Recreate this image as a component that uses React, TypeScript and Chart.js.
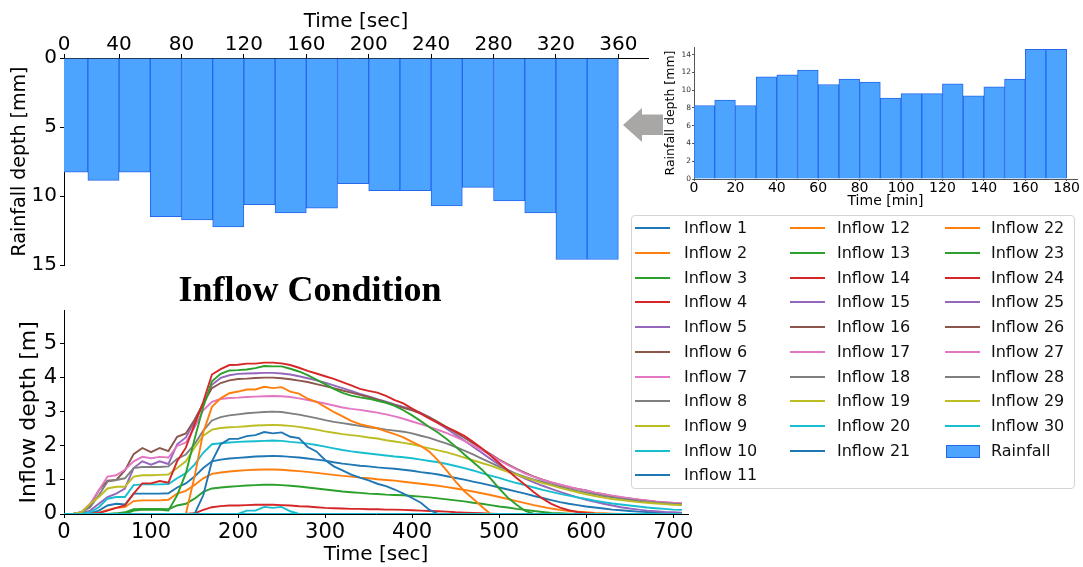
import React, { useEffect, useRef } from 'react';
import { Chart, registerables } from 'chart.js';
Chart.register(...registerables);

// ---------------- data ----------------
const rainBinStartSec = [0, 20, 40, 60, 80, 100, 120, 140, 160, 180, 200, 220, 240, 260, 280, 300, 320, 340];
const rainBinStartMin = [0, 10, 20, 30, 40, 50, 60, 70, 80, 90, 100, 110, 120, 130, 140, 150, 160, 170];
const rainfallMm = [8.27, 8.87, 8.27, 11.49, 11.73, 12.24, 10.63, 11.23, 10.89, 9.11, 9.61, 9.61, 10.72, 9.37, 10.36, 11.23, 14.6, 14.6];
const topTickLabelsSec = [0, 40, 80, 120, 160, 200, 240, 280, 320, 360];

const timeSec = [
  0, 10, 20, 30, 40, 50, 60, 70, 80, 90,
  100, 110, 120, 130, 140, 150, 160, 170, 180, 190,
  200, 210, 220, 230, 240, 250, 260, 270, 280, 290,
  300, 310, 320, 330, 340, 350, 360, 370, 380, 390,
  400, 410, 420, 430, 440, 450, 460, 470, 480, 490,
  500, 510, 520, 530, 540, 550, 560, 570, 580, 590,
  600, 610, 620, 630, 640, 650, 660, 670, 680, 690,
  700, 710,
];

const zeroDepth = [
  0, 0, 0, 0, 0, 0, 0, 0, 0, 0,
  0, 0, 0, 0, 0, 0, 0, 0, 0, 0,
  0, 0, 0, 0, 0, 0, 0, 0, 0, 0,
  0, 0, 0, 0, 0, 0, 0, 0, 0, 0,
  0, 0, 0, 0, 0, 0, 0, 0, 0, 0,
  0, 0, 0, 0, 0, 0, 0, 0, 0, 0,
  0, 0, 0, 0, 0, 0, 0, 0, 0, 0,
  0, 0,
];

const inflow1 = [
  0, 0, 0, 0.02, 0.1, 0.25, 0.3, 0.28, 0.6, 0.6,
  0.6, 0.6, 0.61, 0.78, 0.9, 1.1, 1.35, 1.55, 1.6, 1.63,
  1.65, 1.67, 1.69, 1.7, 1.71, 1.7, 1.68, 1.66, 1.63, 1.6,
  1.57, 1.52, 1.48, 1.45, 1.42, 1.4, 1.37, 1.35, 1.33, 1.3,
  1.27, 1.23, 1.2, 1.16, 1.11, 1.06, 1.01, 0.95, 0.9, 0.84,
  0.78, 0.72, 0.66, 0.6, 0.53, 0.47, 0.41, 0.35, 0.3, 0.26,
  0.22, 0.19, 0.16, 0.13, 0.11, 0.09, 0.07, 0.06, 0.05, 0.04,
  0.03, 0.03,
];
const inflow2 = [
  0, 0, 0, 0, 0.03, 0.12, 0.18, 0.2, 0.38, 0.4,
  0.4, 0.4, 0.42, 0.6, 0.68, 0.85, 1.05, 1.18, 1.22, 1.25,
  1.27, 1.29, 1.3, 1.31, 1.31, 1.3, 1.28, 1.26, 1.24, 1.21,
  1.18, 1.15, 1.12, 1.1, 1.07, 1.05, 1.02, 1.0, 0.98, 0.95,
  0.92, 0.89, 0.86, 0.83, 0.79, 0.75, 0.71, 0.66, 0.61, 0.56,
  0.5, 0.44, 0.38, 0.32, 0.26, 0.21, 0.16, 0.12, 0.09, 0.07,
  0.05, 0.03, 0.02, 0.01, 0, 0, 0, 0, 0, 0,
  0, 0,
];
const inflow3 = [
  0, 0, 0, 0, 0, 0, 0.02, 0.05, 0.14, 0.15,
  0.15, 0.15, 0.14, 0.25, 0.3, 0.45, 0.65, 0.75, 0.78, 0.8,
  0.82, 0.84, 0.85, 0.86, 0.86, 0.85, 0.83, 0.81, 0.78, 0.75,
  0.72, 0.69, 0.66, 0.64, 0.62, 0.6, 0.59, 0.57, 0.56, 0.55,
  0.53, 0.51, 0.49, 0.46, 0.43, 0.4, 0.37, 0.33, 0.3, 0.26,
  0.22, 0.19, 0.15, 0.12, 0.09, 0.06, 0.03, 0.02, 0.01, 0,
  0, 0, 0, 0, 0, 0, 0, 0, 0, 0,
  0, 0,
];
const inflow4 = [
  0, 0, 0, 0, 0, 0, 0, 0, 0, 0,
  0, 0, 0, 0, 0, 0.02, 0.12, 0.2, 0.23, 0.25,
  0.25, 0.26, 0.27, 0.27, 0.27, 0.26, 0.25, 0.23, 0.22, 0.2,
  0.18, 0.17, 0.16, 0.15, 0.15, 0.14, 0.14, 0.13, 0.13, 0.12,
  0.11, 0.1, 0.09, 0.08, 0.07, 0.05, 0.04, 0.03, 0.02, 0.01,
  0, 0, 0, 0, 0, 0, 0, 0, 0, 0,
  0, 0, 0, 0, 0, 0, 0, 0, 0, 0,
  0, 0,
];
const inflow5 = [
  0, 0, 0.02, 0.1, 0.3, 0.5, 0.6, 0.75, 1.35, 1.55,
  1.45, 1.55, 1.47, 2.05, 2.25, 2.7, 3.2, 3.8, 4.0, 4.08,
  4.12, 4.13, 4.14, 4.15, 4.15, 4.13, 4.1, 4.05, 3.99, 3.93,
  3.86, 3.78, 3.7, 3.62, 3.53, 3.46, 3.38, 3.3, 3.22, 3.15,
  3.08, 2.97, 2.84, 2.67, 2.5, 2.33, 2.16, 1.98, 1.8, 1.62,
  1.45, 1.3, 1.16, 1.04, 0.93, 0.83, 0.74, 0.65, 0.57, 0.49,
  0.42, 0.36, 0.3, 0.25, 0.2, 0.16, 0.13, 0.1, 0.08, 0.06,
  0.05, 0.04,
];
const inflow6 = [
  0, 0, 0.05, 0.25, 0.7, 0.98, 1.0, 1.28, 1.76, 1.94,
  1.82, 1.94, 1.85, 2.27, 2.37, 2.77, 3.25, 3.7, 3.85, 3.93,
  3.97, 3.98, 4.0, 4.01, 4.01, 3.99, 3.96, 3.92, 3.88, 3.82,
  3.76, 3.7, 3.63, 3.57, 3.5, 3.44, 3.36, 3.28, 3.2, 3.12,
  3.05, 2.95, 2.84, 2.7, 2.55, 2.4, 2.24, 2.08, 1.92, 1.76,
  1.6, 1.46, 1.33, 1.21, 1.1, 1.01, 0.93, 0.86, 0.79, 0.74,
  0.69, 0.63, 0.58, 0.53, 0.49, 0.46, 0.42, 0.39, 0.36, 0.34,
  0.32, 0.3,
];
const inflow7 = [
  0, 0, 0.05, 0.3, 0.7, 1.1, 1.14, 1.3, 1.55, 1.68,
  1.64, 1.68, 1.66, 2.0, 2.1, 2.55, 3.05, 3.3, 3.38, 3.41,
  3.42, 3.44, 3.45, 3.46, 3.47, 3.46, 3.44, 3.4, 3.35, 3.3,
  3.25, 3.19, 3.13, 3.09, 3.06, 3.02, 2.98, 2.93, 2.87, 2.8,
  2.72, 2.64, 2.56, 2.47, 2.38, 2.27, 2.15, 2.02, 1.88, 1.74,
  1.58, 1.44, 1.31, 1.19, 1.09, 1.0, 0.93, 0.86, 0.8, 0.74,
  0.69, 0.63, 0.58, 0.54, 0.5, 0.46, 0.43, 0.4, 0.37, 0.35,
  0.33, 0.32,
];
const inflow8 = [
  0, 0, 0.05, 0.2, 0.55, 0.95, 1.0, 1.05, 1.35, 1.38,
  1.38, 1.38, 1.4, 1.62, 1.75, 2.05, 2.45, 2.75, 2.85, 2.9,
  2.93, 2.96, 2.98, 3.0, 3.01, 3.0, 2.96, 2.92, 2.87, 2.82,
  2.76, 2.71, 2.67, 2.63, 2.59, 2.55, 2.52, 2.48, 2.45, 2.42,
  2.37, 2.3, 2.24, 2.15, 2.07, 1.97, 1.86, 1.75, 1.63, 1.51,
  1.39, 1.28, 1.18, 1.09, 1.01, 0.94, 0.87, 0.8, 0.74, 0.68,
  0.63, 0.58, 0.53, 0.49, 0.45, 0.42, 0.39, 0.36, 0.34, 0.32,
  0.3, 0.29,
];
const inflow9 = [
  0, 0, 0.05, 0.3, 0.5, 0.75, 0.8, 0.8, 1.1, 1.14,
  1.14, 1.15, 1.16, 1.35, 1.55, 1.95, 2.3, 2.48, 2.53, 2.55,
  2.56, 2.58, 2.6, 2.61, 2.62, 2.61, 2.59, 2.56, 2.52, 2.48,
  2.43, 2.39, 2.35, 2.32, 2.29, 2.25, 2.22, 2.17, 2.13, 2.09,
  2.05, 1.99, 1.93, 1.87, 1.81, 1.74, 1.66, 1.58, 1.5, 1.42,
  1.33, 1.24, 1.16, 1.07, 0.99, 0.91, 0.84, 0.77, 0.7, 0.64,
  0.58, 0.53, 0.48, 0.44, 0.41, 0.38, 0.35, 0.33, 0.31, 0.29,
  0.27, 0.26,
];
const inflow10 = [
  0, 0, 0, 0.05, 0.2, 0.45, 0.5, 0.5, 0.85, 0.87,
  0.87, 0.87, 0.88, 1.05, 1.2, 1.45, 1.8, 2.05, 2.08, 2.1,
  2.12, 2.13, 2.14, 2.15, 2.16, 2.15, 2.12, 2.1, 2.07, 2.03,
  1.98, 1.93, 1.88, 1.84, 1.81, 1.78, 1.75, 1.72, 1.69, 1.67,
  1.64, 1.6, 1.56, 1.52, 1.47, 1.41, 1.35, 1.28, 1.2, 1.13,
  1.06, 0.98, 0.91, 0.85, 0.78, 0.71, 0.65, 0.59, 0.54, 0.49,
  0.44, 0.39, 0.35, 0.31, 0.28, 0.25, 0.22, 0.19, 0.17, 0.15,
  0.13, 0.12,
];
const inflow11 = [
  0, 0, 0, 0, 0, 0, 0, 0, 0, 0,
  0, 0, 0, 0, 0, 0, 0.55, 1.55, 2.05, 2.21,
  2.21, 2.29, 2.32, 2.41, 2.37, 2.4, 2.27, 2.23, 1.97, 1.84,
  1.59, 1.4, 1.28, 1.16, 1.07, 0.99, 0.89, 0.82, 0.72, 0.6,
  0.47, 0.33, 0.12, 0, 0, 0, 0, 0, 0, 0,
  0, 0, 0, 0, 0, 0, 0, 0, 0, 0,
  0, 0, 0, 0, 0, 0, 0, 0, 0, 0,
  0, 0,
];
const inflow12 = [
  0, 0, 0, 0, 0, 0, 0, 0, 0, 0,
  0, 0, 0, 0, 0, 1.1, 2.4, 3.15, 3.4, 3.55,
  3.6, 3.66, 3.66, 3.74, 3.7, 3.73, 3.6, 3.54, 3.39, 3.3,
  3.15, 3.0, 2.87, 2.74, 2.64, 2.58, 2.52, 2.43, 2.35, 2.25,
  2.12, 2.0, 1.83, 1.57, 1.27, 0.95, 0.67, 0.45, 0.22, 0,
  0, 0, 0, 0, 0, 0, 0, 0, 0, 0,
  0, 0, 0, 0, 0, 0, 0, 0, 0, 0,
  0, 0,
];
const inflow13 = [
  0, 0, 0, 0, 0, 0, 0, 0, 0.1, 0.12,
  0.12, 0.12, 0.1, 0.55, 1.2, 2.2, 3.15, 3.9, 4.12, 4.22,
  4.23, 4.25, 4.29, 4.35, 4.34, 4.34, 4.27, 4.19, 4.08, 3.95,
  3.82, 3.68, 3.56, 3.48, 3.43, 3.39, 3.33, 3.27, 3.18, 3.05,
  2.9, 2.73, 2.55, 2.39, 2.2, 1.98, 1.75, 1.53, 1.31, 1.05,
  0.75, 0.48, 0.27, 0.09, 0, 0, 0, 0, 0, 0,
  0, 0, 0, 0, 0, 0, 0, 0, 0, 0,
  0, 0,
];
const inflow14 = [
  0, 0, 0, 0, 0.03, 0.1, 0.18, 0.25, 0.6, 0.9,
  0.9, 0.97, 0.92, 1.55, 1.95, 2.63, 3.3, 4.1, 4.26, 4.38,
  4.39, 4.42, 4.42, 4.45, 4.45, 4.43, 4.38, 4.3, 4.21, 4.13,
  4.05, 3.97, 3.88, 3.78, 3.68, 3.62, 3.57, 3.47, 3.35, 3.25,
  3.1, 2.95, 2.8, 2.67, 2.55, 2.43, 2.3, 2.12, 1.93, 1.72,
  1.5, 1.28, 1.06, 0.85, 0.64, 0.45, 0.3, 0.19, 0.11, 0.06,
  0.03, 0.01, 0, 0, 0, 0, 0, 0, 0, 0,
  0, 0,
];
const inflow20 = [
  0, 0, 0, 0, 0, 0, 0, 0, 0, 0,
  0, 0, 0, 0, 0, 0, 0, 0, 0, 0,
  0, 0.1, 0.1, 0.21, 0.18, 0.21, 0.08, 0, 0, 0,
  0, 0, 0, 0, 0, 0, 0, 0, 0, 0,
  0, 0, 0, 0, 0, 0, 0, 0, 0, 0,
  0, 0, 0, 0, 0, 0, 0, 0, 0, 0,
  0, 0, 0, 0, 0, 0, 0, 0, 0, 0,
  0, 0,
];

const inflowSeries = [
  inflow1, inflow2, inflow3, inflow4, inflow5, inflow6, inflow7, inflow8, inflow9, inflow10,
  inflow11, inflow12, inflow13, inflow14, zeroDepth, zeroDepth, zeroDepth, zeroDepth, zeroDepth, inflow20,
  zeroDepth, zeroDepth, zeroDepth, zeroDepth, zeroDepth, zeroDepth, zeroDepth, zeroDepth, zeroDepth, zeroDepth,
];
const inflowNames = inflowSeries.map((_, i) => `Inflow ${i + 1}`);

// ---------------- styles ----------------
const FONT = "'DejaVu Sans', sans-serif";
const TAB10 = ['#1f77b4', '#ff7f0e', '#2ca02c', '#d62728', '#9467bd', '#8c564b', '#e377c2', '#7f7f7f', '#bcbd22', '#17becf'];
const BAR_FILL = 'rgb(77,164,255)';
const BAR_EDGE = 'rgb(38,103,238)';
const TOP_XMIN = 4.7;

function ChartCanvas({ makeConfig, left, top, width, height }: any) {
  const ref = useRef<HTMLCanvasElement>(null);
  useEffect(() => {
    const chart = new Chart(ref.current as HTMLCanvasElement, makeConfig());
    return () => chart.destroy();
  }, []);
  return (
    <canvas
      ref={ref}
      width={width}
      height={height}
      style={{ position: 'absolute', left, top, width, height }}
    />
  );
}

const axisBase = (tickLen: number) => ({
  grid: { display: true, drawOnChartArea: false, drawTicks: true, tickLength: tickLen, color: '#000', offset: false },
  border: { display: true, color: '#000', width: 1 },
});

function topConfig(): any {
  return {
    type: 'bar',
    data: {
      datasets: [{
        data: rainBinStartSec.map((s, i) => ({ x: s + 10, y: rainfallMm[i] })),
        backgroundColor: BAR_FILL,
        borderColor: BAR_EDGE,
        borderWidth: 1,
        barPercentage: 1,
        categoryPercentage: 1,
        clip: 0,
      }],
    },
    options: {
      responsive: false,
      animation: false,
      devicePixelRatio: 1,
      layout: { padding: { left: 0, top: 0, right: 12, bottom: 14 } },
      plugins: { legend: { display: false }, tooltip: { enabled: false } },
      scales: {
        x: {
          type: 'linear', position: 'top', min: TOP_XMIN, max: 379, offset: false,
          afterBuildTicks: (s: any) => { s.ticks = topTickLabelsSec.map((v) => ({ value: Math.max(v, TOP_XMIN) })); },
          afterFit: (s: any) => { s.height = 58; },
          ticks: {
            autoSkip: false, maxRotation: 0, padding: -1, color: '#000',
            font: { family: FONT, size: 20, lineHeight: 1 },
            callback: (v: any) => (v < 20 ? '0' : String(v)),
          },
          ...axisBase(4),
          title: { display: true, text: 'Time [sec]', color: '#000', font: { family: FONT, size: 20, lineHeight: 1.2 }, padding: { top: 10, bottom: 0 } },
        },
        y: {
          type: 'linear', reverse: true, min: 0, max: 15,
          afterFit: (s: any) => { s.width = 64; },
          ticks: { stepSize: 5, padding: 3, color: '#000', font: { family: FONT, size: 20, lineHeight: 1.2 } },
          ...axisBase(4),
          title: { display: true, text: 'Rainfall depth [mm]', color: '#000', font: { family: FONT, size: 19, lineHeight: 1.2 }, padding: { top: 9, bottom: 0 } },
        },
      },
    },
  };
}

function insetConfig(): any {
  return {
    type: 'bar',
    data: {
      datasets: [{
        data: rainBinStartMin.map((m, i) => ({ x: m + 5, y: rainfallMm[i] })),
        backgroundColor: BAR_FILL,
        borderColor: BAR_EDGE,
        borderWidth: 1,
        barPercentage: 1,
        categoryPercentage: 1,
        clip: 0,
      }],
    },
    options: {
      responsive: false,
      animation: false,
      devicePixelRatio: 1,
      layout: { padding: { left: 0, top: 7, right: 6, bottom: 0 } },
      plugins: { legend: { display: false }, tooltip: { enabled: false } },
      scales: {
        x: {
          type: 'linear', position: 'bottom', min: 0, max: 185, offset: false,
          afterFit: (s: any) => { s.height = 31; },
          ticks: { stepSize: 20, includeBounds: false, autoSkip: false, maxRotation: 0, padding: 0, color: '#000', font: { family: FONT, size: 14, lineHeight: 1 } },
          grid: { display: true, drawOnChartArea: false, drawTicks: true, tickLength: 2, color: '#555', offset: false },
          border: { display: true, color: '#555', width: 1 },
          title: { display: true, text: 'Time [min]', color: '#000', font: { family: FONT, size: 14, lineHeight: 1.2 }, padding: { top: 0, bottom: 0 } },
        },
        y: {
          type: 'linear', min: 0, max: 14.85,
          afterFit: (s: any) => { s.width = 74; },
          ticks: { stepSize: 2, includeBounds: false, padding: 1, color: '#333', font: { family: FONT, size: 7.5, lineHeight: 1 } },
          grid: { display: true, drawOnChartArea: false, drawTicks: true, tickLength: 2, color: '#555', offset: false },
          border: { display: true, color: '#555', width: 1 },
          title: { display: true, text: 'Rainfall depth [mm]', color: '#000', font: { family: FONT, size: 12.5, lineHeight: 1.2 }, padding: { top: 43, bottom: 0 } },
        },
      },
    },
  };
}

function inflowConfig(): any {
  return {
    type: 'line',
    data: {
      datasets: inflowSeries.map((arr, i) => ({
        label: inflowNames[i],
        data: timeSec.map((t, j) => ({ x: t, y: arr[j] })),
        borderColor: TAB10[i % 10],
        backgroundColor: TAB10[i % 10],
        borderWidth: 1.9,
        pointRadius: 0,
        tension: 0,
        fill: false,
        order: inflowSeries.length - i,
      })),
    },
    options: {
      responsive: false,
      animation: false,
      devicePixelRatio: 1,
      layout: { padding: { left: 0, top: 12, right: 12, bottom: 0 } },
      plugins: { legend: { display: false }, tooltip: { enabled: false } },
      scales: {
        x: {
          type: 'linear', min: 0, max: 717,
          afterFit: (s: any) => { s.height = 53; },
          ticks: { stepSize: 100, includeBounds: false, autoSkip: false, maxRotation: 0, padding: 4, color: '#000', font: { family: FONT, size: 21, lineHeight: 1 } },
          ...axisBase(4),
          title: { display: true, text: 'Time [sec]', color: '#000', font: { family: FONT, size: 20, lineHeight: 1.2 }, padding: { top: 0, bottom: 0 } },
        },
        y: {
          type: 'linear', min: 0, max: 5.98,
          afterFit: (s: any) => { s.width = 64; },
          ticks: { stepSize: 1, includeBounds: false, padding: 3, color: '#000', font: { family: FONT, size: 21, lineHeight: 1.2 } },
          ...axisBase(4),
          title: { display: true, text: 'Inflow depth [m]', color: '#000', font: { family: FONT, size: 22, lineHeight: 1.2 }, padding: { top: 16, bottom: 0 } },
        },
      },
    },
  };
}

function Legend() {
  const lineX = [635, 790, 945];
  const textX = [684, 837, 991];
  const rowY0 = 228.3;
  const rowStep = 24.7;
  const perCol = [11, 10, 10];
  const items: any[] = [];
  let k = 0;
  perCol.forEach((n, c) => {
    for (let r = 0; r < n; r++) {
      const cy = rowY0 + r * rowStep;
      if (k < inflowNames.length) {
        items.push(
          <div key={'l' + k} style={{ position: 'absolute', left: lineX[c], top: cy - 1, width: 35, height: 2, background: TAB10[k % 10] }} />
        );
        items.push(
          <div key={'t' + k} style={{ position: 'absolute', left: textX[c], top: cy - 10, height: 20, lineHeight: '20px', fontFamily: FONT, fontSize: 16, color: '#111', whiteSpace: 'nowrap' }}>{inflowNames[k]}</div>
        );
      } else {
        items.push(
          <div key="rp" style={{ position: 'absolute', left: lineX[c] + 1, top: cy - 6, width: 32, height: 11, background: BAR_FILL, border: `1px solid ${BAR_EDGE}` }} />
        );
        items.push(
          <div key="rt" style={{ position: 'absolute', left: textX[c], top: cy - 10, height: 20, lineHeight: '20px', fontFamily: FONT, fontSize: 16, color: '#111', whiteSpace: 'nowrap' }}>Rainfall</div>
        );
      }
      k++;
    }
  });
  return (
    <>
      <div style={{ position: 'absolute', left: 631, top: 215, width: 442, height: 272, border: '1px solid #d4d4d4', borderRadius: 4, background: 'rgba(255,255,255,0.85)' }} />
      {items}
    </>
  );
}

export default function App() {
  return (
    <div style={{ position: 'absolute', left: 0, top: 0, width: 1083, height: 567, background: '#fff', overflow: 'hidden' }}>
      <ChartCanvas makeConfig={topConfig} left={0} top={0} width={660} height={280} />
      <ChartCanvas makeConfig={insetConfig} left={620} top={40} width={463} height={170} />
      <ChartCanvas makeConfig={inflowConfig} left={0} top={295} width={700} height={272} />
      <svg style={{ position: 'absolute', left: 0, top: 0 }} width={1083} height={567}>
        <polygon points="623,125 642,108 642,114.5 663,114.5 663,135 642,135 642,142" fill="#a9a7a5" />
      </svg>
      <div style={{ position: 'absolute', left: 0, top: 271, width: 620, textAlign: 'center', fontFamily: "'Liberation Serif', 'Times New Roman', serif", fontWeight: 'bold', fontSize: 36, lineHeight: '36px', color: '#000' }}>
        Inflow Condition
      </div>
      <Legend />
    </div>
  );
}
